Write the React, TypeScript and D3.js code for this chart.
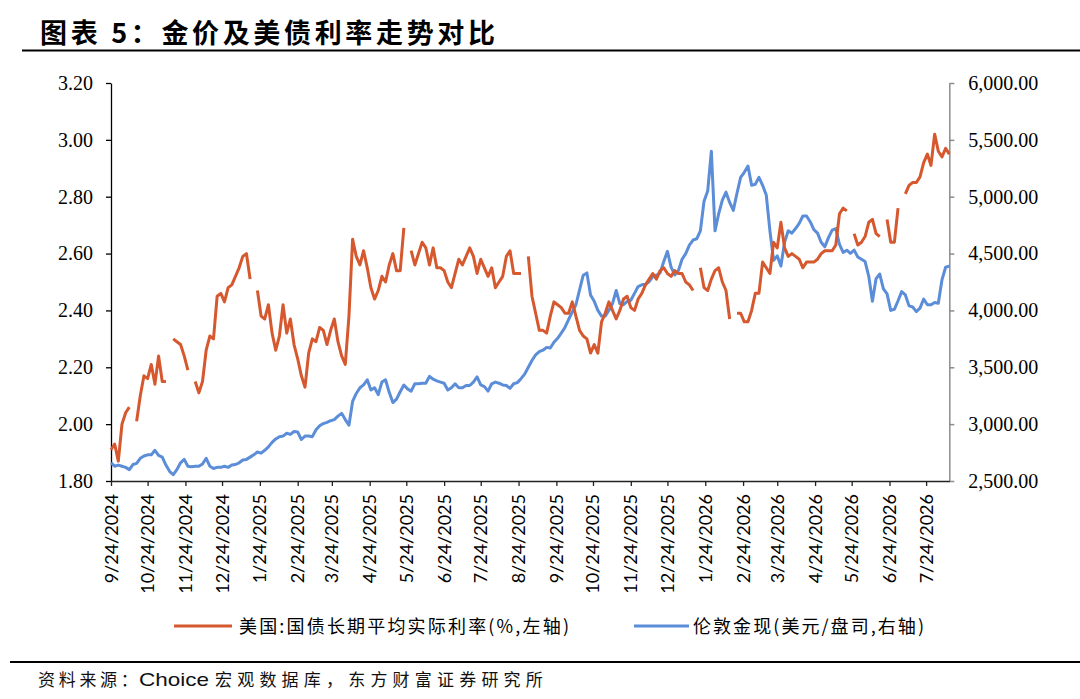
import { useEffect, useRef } from "react"
import * as d3 from "d3"

// Daily series every 3 calendar days from startDate
const startDate = "2024-09-24"
const stepDays = 3
const axisEndDate = "2026-08-12"

const monthTicks = [
  "2024-09-24", "2024-10-24", "2024-11-24", "2024-12-24", "2025-01-24", "2025-02-24",
  "2025-03-24", "2025-04-24", "2025-05-24", "2025-06-24", "2025-07-24", "2025-08-24",
  "2025-09-24", "2025-10-24", "2025-11-24", "2025-12-24", "2026-01-24", "2026-02-24",
  "2026-03-24", "2026-04-24", "2026-05-24", "2026-06-24", "2026-07-24",
]

// 美国:国债长期平均实际利率 (%), null = no value that day
const rateValues: (number | null)[] = [
  1.91, 1.93, 1.87, 2.0, 2.04, 2.06, null, 2.01, 2.1, 2.17,
  2.16, 2.21, 2.14, 2.24, 2.15, 2.15, null, 2.3, 2.29, 2.28,
  2.24, 2.19, null, 2.15, 2.11, 2.15, 2.26, 2.31, 2.3, 2.45,
  2.46, 2.43, 2.48, 2.49, 2.52, 2.55, 2.59, 2.6, 2.51, null,
  2.47, 2.38, 2.37, 2.42, 2.32, 2.26, 2.31, 2.42, 2.32, 2.37,
  2.28, 2.23, 2.17, 2.13, 2.25, 2.3, 2.29, 2.34, 2.33, 2.28,
  2.33, 2.37, 2.29, 2.24, 2.21, 2.38, 2.65, 2.59, 2.56, 2.61,
  2.55, 2.48, 2.44, 2.47, 2.52, 2.5, 2.56, 2.6, 2.54, 2.54,
  2.69, null, 2.61, 2.56, 2.6, 2.64, 2.62, 2.56, 2.62, 2.55,
  2.55, 2.54, 2.5, 2.48, 2.53, 2.58, 2.56, 2.59, 2.62, 2.59,
  2.53, 2.58, 2.55, 2.52, 2.55, 2.48, 2.5, 2.52, 2.59, 2.61,
  2.53, 2.53, 2.53, null, 2.59, 2.45, 2.39, 2.33, 2.33, 2.32,
  2.38, 2.43, 2.42, 2.41, 2.39, 2.39, 2.43, 2.38, 2.33, 2.31,
  2.3, 2.25, 2.28, 2.25, 2.36, 2.39, 2.43, 2.4, 2.37, 2.4,
  2.44, 2.45, 2.41, 2.4, 2.44, 2.46, 2.49, 2.51, 2.53, 2.51,
  2.54, 2.55, 2.53, 2.52, 2.54, 2.53, 2.53, 2.5, 2.49, 2.47,
  null, 2.55, 2.48, 2.47, 2.51, 2.54, 2.55, 2.5, 2.47, 2.37,
  null, 2.39, 2.39, 2.36, 2.36, 2.4, 2.46, 2.46, 2.57, 2.55,
  2.53, 2.64, 2.62, 2.71, 2.62, 2.59, 2.6, 2.59, 2.58, 2.55,
  2.57, 2.57, 2.57, 2.58, 2.6, 2.61, 2.61, 2.61, 2.63, 2.74,
  2.76, 2.75, null, 2.67, 2.63, 2.64, 2.66, 2.71, 2.72, 2.67,
  2.66, null, 2.72, 2.64, 2.64, 2.76, null, 2.81, 2.84, 2.85,
  2.85, 2.87, 2.92, 2.95, 2.91, 3.02, 2.96, 2.94, 2.97, 2.95,
]

// 伦敦金现 (美元/盎司)
const goldValues: number[] = [
  2660, 2630, 2640, 2630, 2620, 2600, 2645, 2655, 2700, 2720,
  2730, 2730, 2770, 2725, 2710, 2640, 2585, 2555, 2600, 2660,
  2690, 2630, 2626, 2630, 2630, 2650, 2700, 2630, 2610, 2620,
  2620, 2630, 2620, 2640, 2645, 2660, 2685, 2690, 2710, 2730,
  2755, 2745, 2770, 2800, 2840, 2870, 2890, 2895, 2920, 2910,
  2935, 2930, 2865, 2895, 2895, 2890, 2950, 2985, 3005, 3015,
  3030, 3040, 3070, 3095, 3040, 2990, 3200, 3270, 3320, 3345,
  3390, 3300, 3320, 3260, 3370, 3390, 3280, 3190, 3220, 3285,
  3344, 3310, 3290, 3355, 3355, 3360, 3360, 3420, 3395, 3380,
  3370, 3360, 3300, 3320, 3355, 3320, 3320, 3340, 3340, 3370,
  3415, 3345, 3330, 3290, 3355, 3370, 3360, 3345, 3340, 3315,
  3355, 3365, 3400, 3440, 3500, 3560, 3610, 3637, 3650, 3675,
  3670, 3720, 3755, 3800, 3850, 3920, 3985, 4050, 4180, 4310,
  4330, 4136, 4080, 4000, 3950, 3950, 4000, 4060, 4175, 4060,
  4050, 4080, 4090, 4150, 4210, 4225, 4230, 4253, 4297, 4310,
  4330, 4430, 4520, 4380, 4312, 4350, 4450, 4500, 4575, 4619,
  4630, 4700, 4960, 5050, 5400, 4700, 4850, 4970, 5040, 4950,
  4880, 5030, 5170, 5215, 5270, 5100, 5110, 5170, 5100, 5015,
  4700, 4440, 4480, 4390, 4600, 4700, 4680, 4720, 4766, 4830,
  4830, 4780, 4710, 4680, 4600, 4560, 4640, 4707, 4720, 4580,
  4510, 4530, 4502, 4530, 4470, 4450, 4430, 4300, 4080, 4280,
  4320, 4190, 4145, 4000, 4010, 4085, 4165, 4136, 4040, 4030,
  3990, 4020, 4100, 4050, 4050, 4070, 4063, 4270, 4380, 4390,
]

const leftTicks = [1.8, 2.0, 2.2, 2.4, 2.6, 2.8, 3.0, 3.2]
const rightTicks = [2500, 3000, 3500, 4000, 4500, 5000, 5500, 6000]

const titleText = "图表 5：金价及美债利率走势对比"
const rateName = "美国:国债长期平均实际利率(%,左轴)"
const goldName = "伦敦金现(美元/盘司,右轴)"
const sourceLead = "资料来源："
const sourceVendor = "Choice"
const sourceRest = "宏观数据库，东方财富证券研究所"

const RED = "#D5582E"
const BLUE = "#5B8DD8"
const CJK = "'Noto Sans CJK SC', sans-serif"
const SERIF = "'Liberation Serif', 'Times New Roman', serif"

type Pt = { date: Date; v: number | null }

export default function App() {
  const svgRef = useRef<SVGSVGElement>(null)

  useEffect(() => {
    if (!svgRef.current) return
    const svg = d3.select(svgRef.current)
    svg.selectAll("*").remove()

    const parse = d3.utcParse("%Y-%m-%d")
    const start = parse(startDate)!
    const left = 111
    const right = 949.3
    const top = 83
    const bottom = 481

    const x = d3.scaleUtc().domain([start, parse(axisEndDate)!]).range([left, right])
    const yLeft = d3.scaleLinear().domain([1.8, 3.2]).range([bottom, top])
    const yRight = d3.scaleLinear().domain([2500, 6000]).range([bottom, top])

    const rate: Pt[] = rateValues.map((v, i) => ({ date: d3.utcDay.offset(start, i * stepDays), v }))
    const gold: Pt[] = goldValues.map((v, i) => ({ date: d3.utcDay.offset(start, i * stepDays), v }))

    // Title + rule
    svg
      .append("text")
      .attr("x", 40)
      .attr("y", 43)
      .attr("font-family", CJK)
      .attr("font-weight", 700)
      .attr("font-size", 27)
      .attr("textLength", 455)
      .attr("lengthAdjust", "spacing")
      .text(titleText)
    svg.append("line").attr("x1", 22).attr("x2", 1080).attr("y1", 50.5).attr("y2", 50.5).attr("stroke", "#000").attr("stroke-width", 2)

    // Left axis
    const gL = svg
      .append("g")
      .attr("transform", `translate(${left},0)`)
      .call(d3.axisLeft(yLeft).tickValues(leftTicks).tickFormat(d3.format(".2f")).tickSize(5).tickSizeOuter(0).tickPadding(13))
    gL.attr("font-family", SERIF).attr("font-size", 20)
    gL.selectAll("path,line").attr("stroke", "#000").attr("stroke-width", 1.3)
    gL.selectAll("text").attr("fill", "#000")

    // Right axis
    const gR = svg
      .append("g")
      .attr("transform", `translate(${right},0)`)
      .call(d3.axisRight(yRight).tickValues(rightTicks).tickFormat(d3.format(",.2f")).tickSize(5).tickSizeOuter(0).tickPadding(14))
    gR.attr("font-family", SERIF).attr("font-size", 20)
    gR.selectAll("path,line").attr("stroke", "#8c8c8c").attr("stroke-width", 1.5)
    gR.selectAll("text").attr("fill", "#000")

    // Bottom axis
    const tickDates = monthTicks.map((d) => parse(d)!)
    const gB = svg
      .append("g")
      .attr("transform", `translate(0,${bottom})`)
      .call(d3.axisBottom(x).tickValues(tickDates).tickFormat(() => "").tickSize(5).tickSizeOuter(0))
    gB.selectAll("path,line").attr("stroke", "#222").attr("stroke-width", 1.3)

    const fmtTick = (d: Date) => `${d.getUTCMonth() + 1}/${d.getUTCDate()}/${d.getUTCFullYear()}`
    svg
      .append("g")
      .selectAll("text")
      .data(tickDates)
      .enter()
      .append("text")
      .attr("transform", (d) => `translate(${x(d) + 6.5},${494}) rotate(-90)`)
      .attr("text-anchor", "end")
      .attr("font-family", "Lato, 'Open Sans', sans-serif")
      .attr("font-size", 18)
      .attr("fill", "#000")
      .text(fmtTick)

    // Series
    const lineGold = d3
      .line<Pt>()
      .defined((d) => d.v != null)
      .x((d) => x(d.date))
      .y((d) => yRight(d.v as number))
    const lineRate = d3
      .line<Pt>()
      .defined((d) => d.v != null)
      .x((d) => x(d.date))
      .y((d) => yLeft(d.v as number))

    svg
      .append("path")
      .datum(gold)
      .attr("fill", "none")
      .attr("stroke", BLUE)
      .attr("stroke-width", 3)
      .attr("stroke-linejoin", "round")
      .attr("d", lineGold)

    svg
      .append("path")
      .datum(rate)
      .attr("fill", "none")
      .attr("stroke", RED)
      .attr("stroke-width", 3)
      .attr("stroke-linejoin", "round")
      .attr("d", lineRate)

    // Legend
    const legendItems = [
      { name: rateName, color: RED, x1: 174, x2: 232, tx: 239, len: 330 },
      { name: goldName, color: BLUE, x1: 634, x2: 689, tx: 693, len: 231 },
    ]
    legendItems.forEach((it) => {
      svg.append("line").attr("x1", it.x1).attr("x2", it.x2).attr("y1", 626).attr("y2", 626).attr("stroke", it.color).attr("stroke-width", 3)
      svg
        .append("text")
        .attr("x", it.tx)
        .attr("y", 632.5)
        .attr("font-family", CJK)
        .attr("font-size", 18)
        .attr("fill", "#000")
        .attr("textLength", it.len)
        .attr("lengthAdjust", "spacing")
        .text(it.name)
    })

    // Source
    svg.append("line").attr("x1", 10).attr("x2", 1080).attr("y1", 662).attr("y2", 662).attr("stroke", "#000").attr("stroke-width", 2)
    const src = svg.append("g").attr("fill", "#111")
    src
      .append("text")
      .attr("x", 38)
      .attr("y", 686)
      .attr("font-family", CJK)
      .attr("font-size", 17)
      .attr("letter-spacing", 3.7)
      .text(sourceLead)
    src
      .append("text")
      .attr("x", 139)
      .attr("y", 686)
      .attr("font-family", "'Liberation Sans', Arial, sans-serif")
      .attr("font-size", 19)
      .attr("textLength", 70)
      .attr("lengthAdjust", "spacingAndGlyphs")
      .text(sourceVendor)
    src
      .append("text")
      .attr("x", 215)
      .attr("y", 686)
      .attr("font-family", CJK)
      .attr("font-size", 17)
      .attr("letter-spacing", 5.2)
      .text(sourceRest)
  }, [])

  return (
    <>
      <style>{"body{margin:0}"}</style>
      <svg ref={svgRef} width={1080} height={699} style={{ display: "block", background: "#fff" }}></svg>
    </>
  )
}
